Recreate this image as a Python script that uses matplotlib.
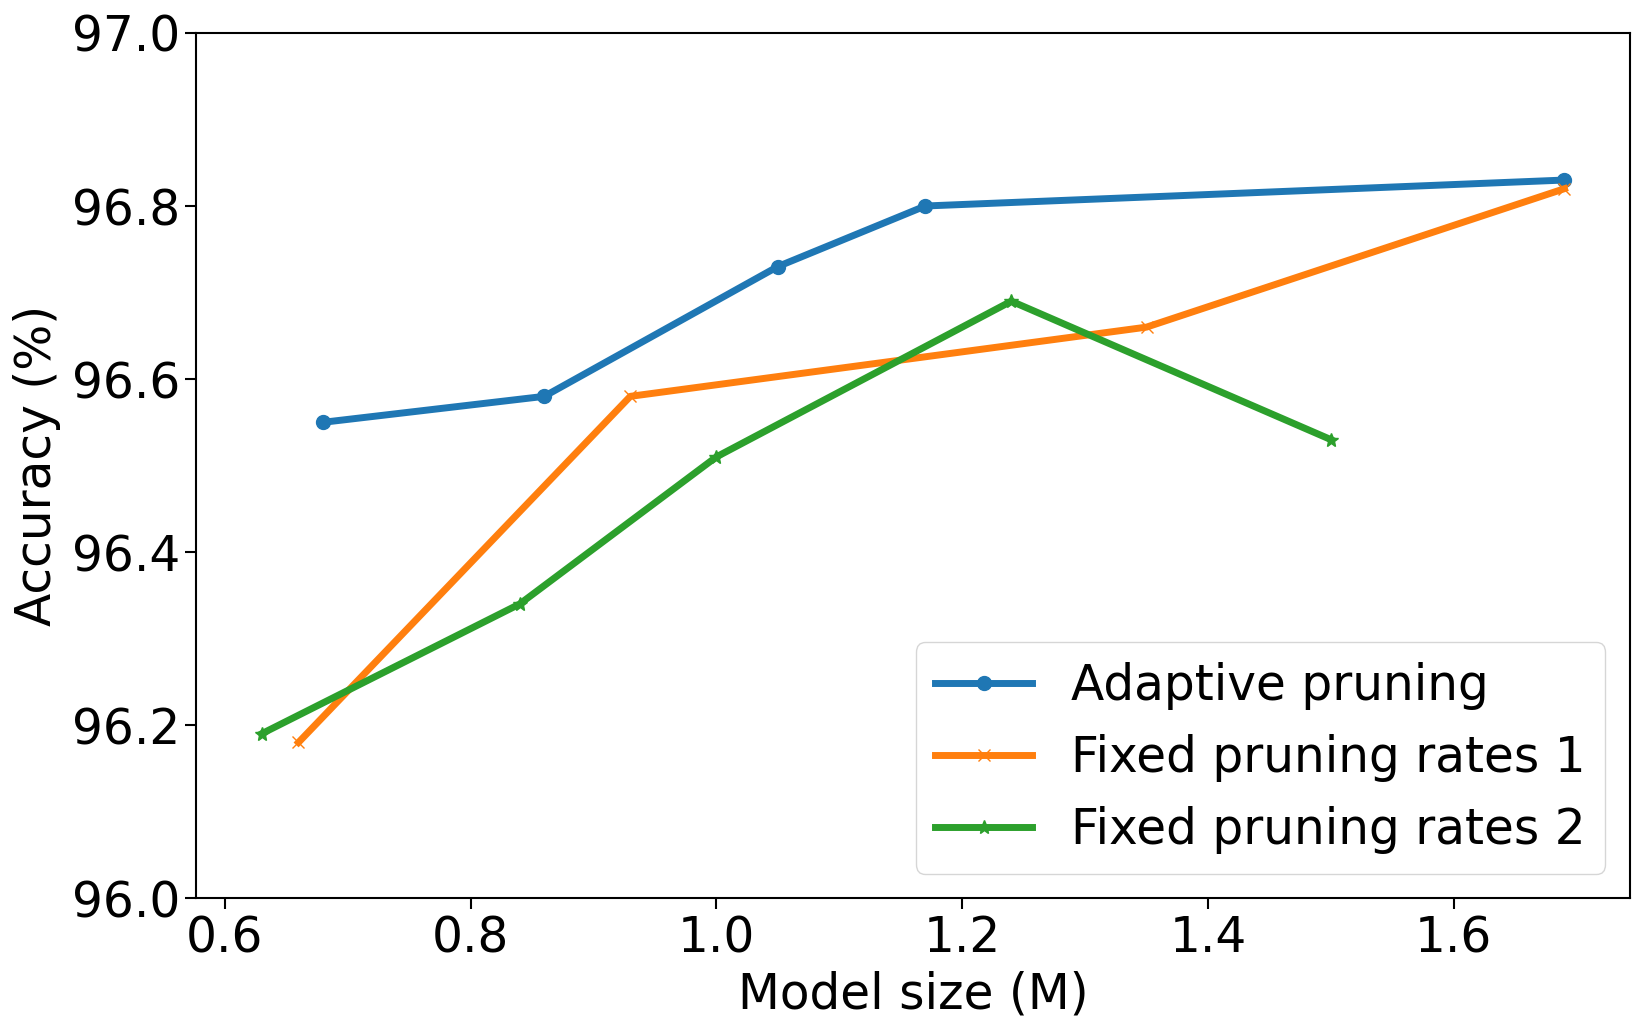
import matplotlib
matplotlib.use("Agg")
from matplotlib import pyplot as plt

# model size (M) vs accuracy (%)
adaptive_x = [0.68, 0.86, 1.05, 1.17, 1.69]
adaptive_y = [96.55, 96.58, 96.73, 96.80, 96.83]

fixed1_x = [0.66, 0.93, 1.35, 1.69]
fixed1_y = [96.18, 96.58, 96.66, 96.82]

fixed2_x = [0.63, 0.84, 1.00, 1.24, 1.50]
fixed2_y = [96.19, 96.34, 96.51, 96.69, 96.53]

fig = plt.figure(figsize=(16.51, 10.30), dpi=100)
ax = fig.add_axes([0.119, 0.128, 0.868, 0.840])

ax.plot(adaptive_x, adaptive_y, marker="o", markersize=10, linewidth=5, label="Adaptive pruning")
ax.plot(fixed1_x, fixed1_y, marker="x", markersize=9, linewidth=5, label="Fixed pruning rates 1")
ax.plot(fixed2_x, fixed2_y, marker="*", markersize=10, linewidth=5, label="Fixed pruning rates 2")

ax.set_ylim(96.0, 97.0)
ax.tick_params(labelsize=35, width=1.5, length=8)
for s in ax.spines.values():
    s.set_linewidth(1.5)
ax.set_xlabel("Model size (M)", fontsize=35, labelpad=6)
ax.set_ylabel("Accuracy (%)", fontsize=35, labelpad=8)
ax.legend(loc="lower right", fontsize=35)

fig.savefig("out.png")
